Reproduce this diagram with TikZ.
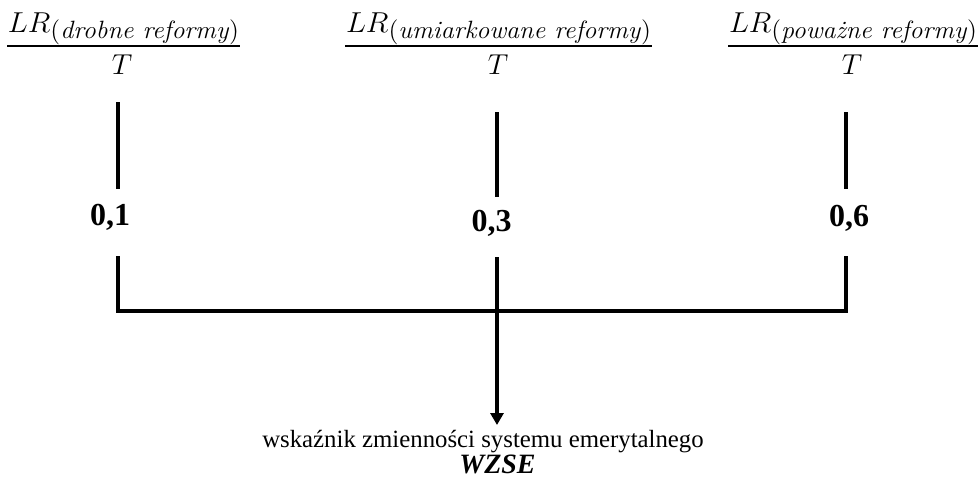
\documentclass[tikz,border=0pt]{standalone}
\usepackage[no-math]{fontspec}
\setmainfont{Liberation Serif}
\usetikzlibrary{arrows.meta}
\newlength\pxu
\setlength\pxu{0.5pt}
% numerator of a ratio, fitted to the width of its fraction bar
\newcommand\ratiotop[2]{\resizebox{#1\pxu}{\height}{%
  \fontsize{14}{16}\selectfont$LR$%
  \raisebox{-3pt}{\fontsize{12.5}{14}\fontfamily{lmr}\selectfont(\textit{#2})}}}
\tikzset{
  conn/.style={line width=2pt, line join=miter},
  bar/.style={line width=1.4pt},
  ratio/.style={inner sep=0pt, anchor=base},
  denom/.style={inner sep=0pt, anchor=base, font=\fontsize{14}{16}\selectfont},
  value/.style={inner sep=0pt, font=\fontsize{16}{18}\selectfont\bfseries},
  caption/.style={inner sep=0pt, anchor=base, font=\fontsize{12.4}{14}\selectfont},
  acronym/.style={inner sep=0pt, anchor=base, font=\fontsize{14}{16}\selectfont\bfseries\itshape},
}
\begin{document}
\begin{tikzpicture}[x=0.5pt, y=-0.5pt]
\useasboundingbox (0,0) rectangle (980,488);

% ratios LR / T
\node[ratio] (n1) at (123.5,32) {\ratiotop{231}{drobne reformy}};
\draw[bar] (7,46) -- (240,46);
\node[denom] (d1) at (122,74) {$T$};

\node[ratio] (n2) at (498.5,32) {\ratiotop{305}{umiarkowane reformy}};
\draw[bar] (345,46) -- (652,46);
\node[denom] (d2) at (498,74) {$T$};

\node[ratio] (n3) at (853,32) {\ratiotop{248}{poważne reformy}};
\draw[bar] (728,46) -- (978,46);
\node[denom] (d3) at (852,74) {$T$};

% weights
\node[value] (v1) at (110,217) {0,1};
\node[value] (v2) at (491.5,223) {0,3};
\node[value] (v3) at (849,218) {0,6};

% line ends
\coordinate (t1) at (118,102); \coordinate (b1) at (118,189);
\coordinate (t2) at (497,112); \coordinate (b2) at (497,197);
\coordinate (t3) at (846,112); \coordinate (b3) at (846,189);
\coordinate (u1) at (118,256); \coordinate (c1) at (118,311);
\coordinate (u2) at (497,257);
\coordinate (u3) at (846,256); \coordinate (c3) at (846,311);
\coordinate (tip) at (497,425);

\draw[conn] (t1) -- (b1);
\draw[conn] (t2) -- (b2);
\draw[conn] (t3) -- (b3);
\draw[conn] (u1) -- (c1) -- (c3) -- (u3);
\draw[conn, -{Triangle[width=6.5pt, length=6pt]}] (u2) -- (tip);

% result
\node[caption] (w) at (483,447) {wskaźnik zmienności systemu emerytalnego};
\node[acronym] (z) at (497.5,473) {WZSE};
\end{tikzpicture}
\end{document}
